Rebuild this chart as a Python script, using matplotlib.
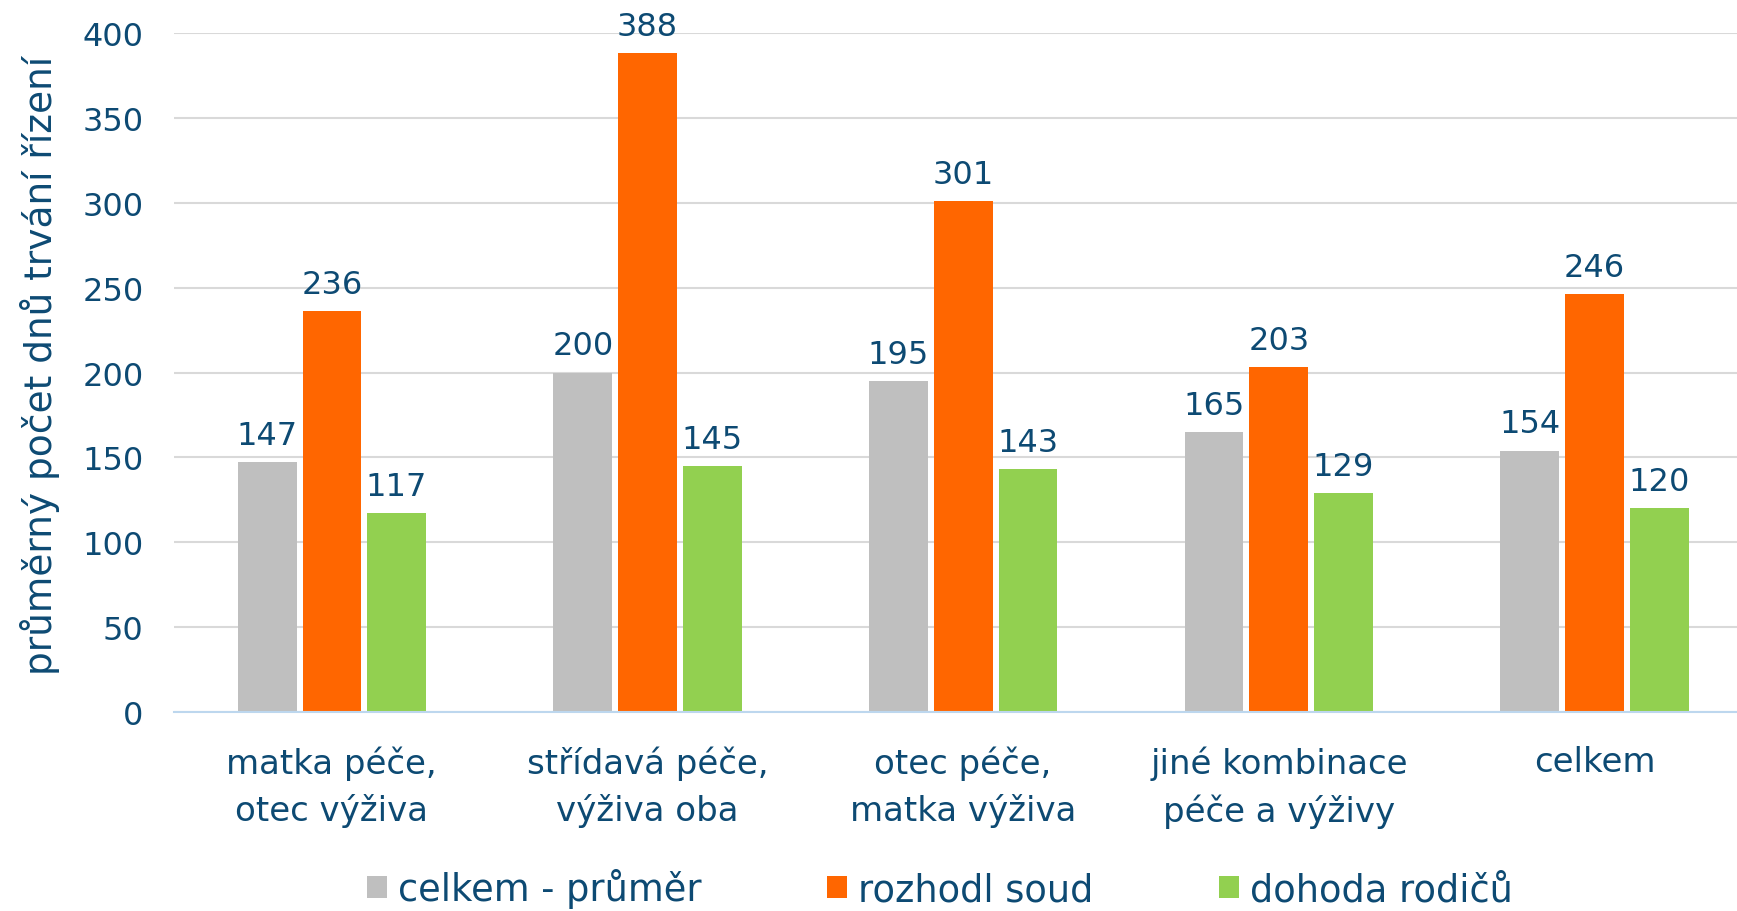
import matplotlib
matplotlib.use("Agg")
import matplotlib.pyplot as plt
import numpy as np

# data
categories = ["matka péče,\notec výživa", "střídavá péče,\nvýživa oba",
              "otec péče,\nmatka výživa", "jiné kombinace\npéče a výživy", "celkem"]
celkem_prumer = [147, 200, 195, 165, 154]
rozhodl_soud = [236, 388, 301, 203, 246]
dohoda_rodicu = [117, 145, 143, 129, 120]
series_names = ["celkem - průměr", "rozhodl soud", "dohoda rodičů"]
colors = ["#BFBFBF", "#FF6600", "#92D050"]
text_col = "#0D4A73"

plt.rcParams['font.family'] = ['DejaVu Sans']

fig = plt.figure(figsize=(17.37, 9.12), dpi=100)
ax = fig.add_axes([0.1002, 0.2182, 0.9086, 0.7445])

x = np.arange(len(categories))
step = 0.205
width = 0.186
for i, (vals, name, c) in enumerate(zip([celkem_prumer, rozhodl_soud, dohoda_rodicu],
                                        series_names, colors)):
    bars = ax.bar(x + (i - 1) * step, vals, width, color=c, label=name, zorder=3)
    for b, v in zip(bars, vals):
        ax.annotate(str(v), (b.get_x() + b.get_width() / 2, v), xytext=(0, 8),
                    textcoords="offset points", ha="center", va="bottom",
                    fontsize=23, color=text_col, annotation_clip=False)

ax.set_xlim(-0.5, 4.5)
ax.set_ylim(0, 400)
ax.set_yticks(np.arange(0, 401, 50))
ax.set_xticks(x)
ax.set_xticklabels(categories, linespacing=1.5)
ax.tick_params(axis="y", length=0, pad=22, labelsize=23, labelcolor=text_col)
ax.tick_params(axis="x", length=0, pad=24, labelsize=24.5, labelcolor=text_col)
ax.grid(axis="y", color="#D9D9D9", linewidth=1.5, zorder=0)
for s in ["top", "right", "left"]:
    ax.spines[s].set_visible(False)
ax.spines["bottom"].set_color("#BDD7EE")
ax.spines["bottom"].set_linewidth(1.5)
ax.spines["bottom"].set_zorder(4)

ax.set_ylabel("průměrný počet dnů trvání řízení", fontsize=27, color=text_col)
ax.yaxis.set_label_coords(-0.072, 0.512)

fig.legend(loc="center", bbox_to_anchor=(0.541, 0.025),
           ncol=3, frameon=False, fontsize=26.5, labelcolor=text_col,
           handlelength=0.55, handleheight=0.55, handletextpad=0.3,
           columnspacing=3.4)

fig.savefig("out.png", dpi=100)
